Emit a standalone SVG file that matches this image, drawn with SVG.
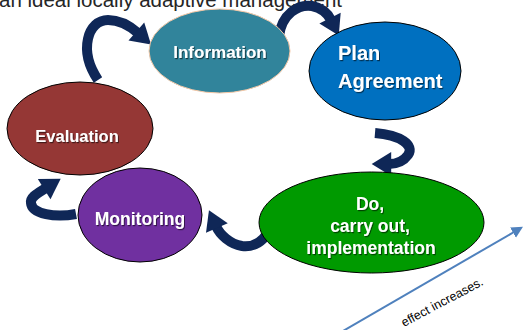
<svg xmlns="http://www.w3.org/2000/svg" width="523" height="330" viewBox="0 0 523 330">
<defs>
<style>
.lbl{font-family:"Liberation Sans","Open Sans",sans-serif;font-weight:bold;fill:#fff;text-anchor:middle;filter:url(#sh)}
.arr{fill:none;stroke:#0F2757;stroke-width:10;marker-end:url(#head)}
.node{stroke-width:1}
</style>
<filter id="sh" x="-20%" y="-20%" width="140%" height="160%">
<feDropShadow dx="1" dy="1.2" stdDeviation="0.7" flood-color="#000" flood-opacity="0.55"/>
</filter>
<marker id="head" markerUnits="userSpaceOnUse" markerWidth="26" markerHeight="26" viewBox="0 -12 20 24" refX="2" refY="0" orient="auto">
<path d="M0,-11 L18,0 L0,11 z" fill="#0F2757"/>
</marker>
<marker id="bhead" markerUnits="userSpaceOnUse" markerWidth="14" markerHeight="14" viewBox="0 -6 12 12" refX="1" refY="0" orient="auto">
<path d="M0,-5 L10,0 L0,5 z" fill="#4F81BD"/>
</marker>
</defs>
<rect width="523" height="330" fill="#fff"/>
<text x="-1" y="7" font-family="Liberation Sans, Arial, sans-serif" font-size="20.5" fill="#262626">an ideal locally adaptive management</text>
<g id="connectors">
<path class="arr" d="M 98 80 C 78 50, 88 20, 108 20 C 120 20, 130 26, 138 33"/>
<path class="arr" d="M 279 36 C 282 14, 298 4, 312 6 C 322 8, 328 14, 331 20"/>
<path class="arr" d="M 375 133 C 400 135, 415 145, 408 155 C 403 162, 395 164, 389 164"/>
<path class="arr" d="M 272 216 C 272 235, 258 248, 242 246 C 230 244, 220 235, 216 226"/>
<path class="arr" d="M 76 214 C 55 218, 32 214, 31 203 C 30 197, 38 193, 46 188"/>
<line x1="343" y1="331" x2="514" y2="232" stroke="#4F81BD" stroke-width="2" marker-end="url(#bhead)"/>
</g>
<g id="information">
<ellipse class="node" cx="219.5" cy="51" rx="70.5" ry="42" fill="#31849B" stroke="#F4C7A6"/>
<text class="lbl" x="220" y="58" font-size="17">Information</text>
</g>
<g id="plan">
<ellipse class="node" cx="385" cy="71" rx="76" ry="49" fill="#0070C0" stroke="#000"/>
<text class="lbl" x="338" y="60" font-size="20" style="text-anchor:start">Plan</text>
<text class="lbl" x="338" y="88" font-size="20" style="text-anchor:start">Agreement</text>
</g>
<g id="evaluation">
<ellipse class="node" cx="80" cy="128.5" rx="73" ry="46.5" fill="#953735" stroke="#000"/>
<text class="lbl" x="77" y="142" font-size="16.5">Evaluation</text>
</g>
<g id="monitoring">
<ellipse class="node" cx="140" cy="215" rx="62" ry="47" fill="#7030A0" stroke="#000"/>
<text class="lbl" x="140" y="225" font-size="17.5">Monitoring</text>
</g>
<g id="do">
<ellipse class="node" cx="371.5" cy="222.5" rx="112.5" ry="50.5" fill="#009A00" stroke="#000"/>
<text class="lbl" x="370" y="210" font-size="17.5">Do,</text>
<text class="lbl" x="370" y="232" font-size="17.5">carry out,</text>
<text class="lbl" x="371" y="254" font-size="17.5">implementation</text>
</g>
<text x="0" y="0" transform="translate(404 327) rotate(-28)" font-family="Liberation Sans, Arial, sans-serif" font-size="12.5" fill="#000">effect increases.</text>
</svg>
